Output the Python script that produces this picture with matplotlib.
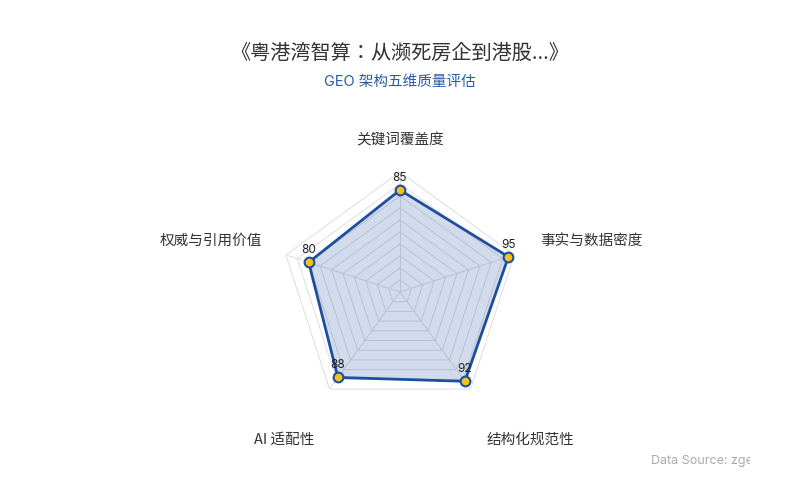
import matplotlib
matplotlib.use("Agg")

import numpy as np
import matplotlib.pyplot as plt
from matplotlib.transforms import Bbox

plt.rcParams['font.family'] = ['Inter', 'Noto Sans CJK SC', 'DejaVu Sans']
CJK_FIRST = ['Noto Sans CJK SC', 'Inter', 'DejaVu Sans']
TITLE_FONT = ['Noto Sans CJK JP', 'Noto Sans CJK SC', 'DejaVu Sans']

TITLE = "《粤港湾智算：从濒死房企到港股...》"
SUBTITLE = "GEO 架构五维质量评估"
dims = ["关键词覆盖度", "事实与数据密度", "结构化规范性", "AI 适配性", "权威与引用价值"]
scores = [85, 95, 92, 88, 80]
MAX_V = 100
rings = [10, 20, 30, 40, 50, 60, 70, 80, 90, 100]

C_LINE = "#1f4e9e"
C_DOT = "#f2c318"
C_GRID = "#dcdee4"
C_TXT = "#333333"
C_SUB = "#2a5aa8"

# label offsets (pixels) from the outer vertex, plus alignment
label_pos = [((0, 32), "center"), ((26, 14), "left"), ((16, -51), "left"),
             ((-15, -51), "right"), ((-24, 14), "right")]

fig = plt.figure(figsize=(8, 5), dpi=100, facecolor="white")
ax = fig.add_axes([0.35, 0.176, 0.30, 0.48], projection="polar")
ax.set_theta_offset(np.pi / 2)
ax.set_theta_direction(-1)
ax.set_ylim(0, MAX_V)
ax.grid(False)
ax.spines["polar"].set_visible(False)
ax.set_xticks([])
ax.set_yticks([])
ax.patch.set_alpha(0)

n = len(dims)
theta = np.arange(n) * 2 * np.pi / n
tc = np.append(theta, theta[0])

# pentagon grid
for r in rings:
    ax.plot(tc, [r] * (n + 1), color=C_GRID, lw=0.7, zorder=1)
for t in theta:
    ax.plot([t, t], [0, MAX_V], color=C_GRID, lw=0.7, zorder=1)

vals = np.append(scores, scores[0])
ax.fill(tc, vals, color=C_LINE, alpha=0.2, lw=0, zorder=2)
ax.plot(tc, vals, color=C_LINE, lw=2.0, zorder=3)
ax.plot(theta, scores, "o", ms=7, mfc=C_DOT, mec=C_LINE, mew=1.5, zorder=4,
        clip_on=False)

for t, v in zip(theta, scores):
    ax.annotate(str(v), (t, v), xytext=(0, 6), textcoords="offset pixels",
                ha="center", va="bottom", fontsize=8.5, color="#222222",
                annotation_clip=False, zorder=5)

for t, name, (off, ha) in zip(theta, dims, label_pos):
    ax.annotate(name, (t, MAX_V), xytext=off, textcoords="offset pixels",
                ha=ha, va="center", fontsize=10.5, color=C_TXT,
                annotation_clip=False, family=CJK_FIRST)

fig.text(0.5, 0.893, TITLE, ha="center", va="center", fontsize=14.5,
         color=C_TXT, family=TITLE_FONT)
fig.text(0.5, 0.836, SUBTITLE, ha="center", va="center", fontsize=10.5,
         color=C_SUB)

src = fig.text(0.814, 0.078, "Data Source: zgeo.ai", ha="left", va="center",
               fontsize=9, color="#aaaaaa")
src.set_clip_box(Bbox.from_extents(0, 0, 750, 500))
src.set_clip_on(True)

fig.savefig("out.png", dpi=100, facecolor="white")
